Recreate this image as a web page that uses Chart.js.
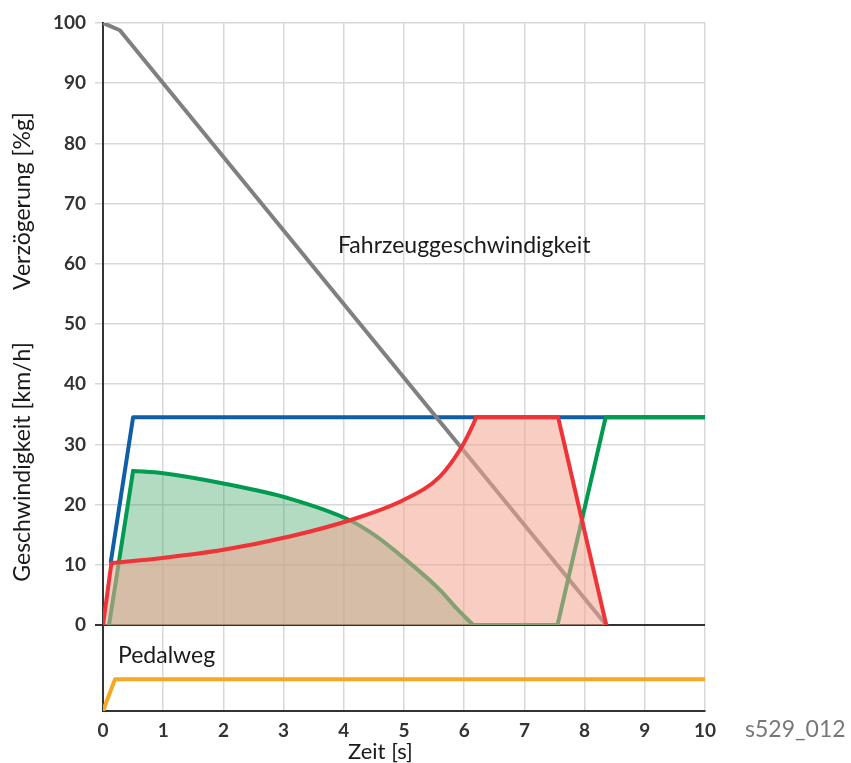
<!DOCTYPE html>
<html>
<head>
<meta charset="utf-8">
<script src="https://cdn.jsdelivr.net/npm/chart.js@4.4.1/dist/chart.umd.min.js"></script>
<style>
  html, body { margin: 0; padding: 0; background: #fff; }
  #wrap { width: 851px; height: 763px; }
</style>
</head>
<body>
<div id="wrap"><canvas id="grafica" width="851" height="763"></canvas></div>
<script>
// Zeitachse [s] und Werte je Kurve
const zeitTicks = [0, 1, 2, 3, 4, 5, 6, 7, 8, 9, 10]
const yTicks = [0, 10, 20, 30, 40, 50, 60, 70, 80, 90, 100]

const grauZeit = [0, 0.28, 8.36]
const grauWerte = [100, 98.8, 0]

const blauZeit = [0.13, 0.5, 10]
const blauWerte = [10.5, 34.5, 34.5]

const gruenZeit = [0.1, 0.5, 1.0, 2.0, 3.1, 4.1, 4.5, 5.0, 5.6, 5.87, 6.15, 7.55, 8.35, 10]
const gruenWerte = [0, 25.6, 25.2, 23.5, 21.0, 17.4, 15.0, 11.1, 5.8, 2.8, 0, 0, 34.5, 34.5]

const rotZeit = [0, 0.14, 0.95, 2.0, 3.1, 4.1, 5.0, 5.6, 5.96, 6.12, 6.2, 7.56, 8.36]
const rotWerte = [0, 10.3, 11.1, 12.5, 14.7, 17.4, 20.8, 24.7, 29.6, 32.7, 34.5, 34.5, 0]

const pedalZeit = [0, 0.2, 10]
const pedalWerte = [0, 40, 40]

// Punkte von Index a bis b (inklusive)
function punkte(xs, ys, a = 0, b = xs.length - 1) {
    const res = []
    for (let i = a; i <= b; i++) res.push({ x: xs[i], y: ys[i] })
    return res
}

function linie(label, data, farbe, glatt) {
    return {
        label: label,
        data: data,
        borderColor: farbe,
        borderWidth: 4,
        fill: false,
        cubicInterpolationMode: glatt ? "monotone" : "default",
        yAxisID: "y"
    }
}

function flaeche(label, data, farbe) {
    return {
        label: label,
        data: data,
        borderWidth: 0,
        borderColor: "rgba(0,0,0,0)",
        backgroundColor: farbe,
        fill: "origin",
        yAxisID: "y"
    }
}

const schrift = "Lato, 'Noto Sans', sans-serif"

const texte = {
    id: "texte",
    afterDraw(chart) {
        const ctx = chart.ctx
        ctx.save()
        ctx.fillStyle = "#1a1a1a"
        ctx.font = "23px " + schrift
        ctx.textAlign = "center"
        ctx.textBaseline = "alphabetic"

        ctx.save()
        ctx.translate(30, 201)
        ctx.rotate(-Math.PI / 2)
        ctx.fillText("Verzögerung [%g]", 0, 0)
        ctx.restore()

        ctx.save()
        ctx.translate(30, 462)
        ctx.rotate(-Math.PI / 2)
        ctx.fillText("Geschwindigkeit [km/h]", 0, 0)
        ctx.restore()

        ctx.textAlign = "left"
        ctx.fillText("Fahrzeuggeschwindigkeit", 338, 253)
        ctx.fillText("Pedalweg", 118, 663)
        ctx.font = "22px " + schrift
        ctx.fillText("Zeit [s]", 348, 759)
        ctx.font = "23px " + schrift
        ctx.fillStyle = "#777"
        ctx.fillText("s529_012", 745, 737)
        ctx.restore()
    }
}

const rot = "#ee3438"
const gruen = "#009a50"
const n = rotZeit.length - 1
const m = gruenZeit.length - 1

const ctx = document.getElementById("grafica").getContext("2d")
new Chart(ctx, {
    type: "line",
    data: {
        datasets: [
            linie("Rot Anstieg", punkte(rotZeit, rotWerte, 0, 1), rot, false),
            linie("Rot Kurve", punkte(rotZeit, rotWerte, 1, 10), rot, true),
            linie("Rot Abfall", punkte(rotZeit, rotWerte, 10, n), rot, false),
            flaeche("Rot Fläche", punkte(rotZeit, rotWerte), "rgba(242,165,145,0.55)"),
            linie("Grün Anstieg", punkte(gruenZeit, gruenWerte, 0, 1), gruen, false),
            linie("Grün Kurve", punkte(gruenZeit, gruenWerte, 1, 10), gruen, true),
            linie("Grün Rest", punkte(gruenZeit, gruenWerte, 10, m), gruen, false),
            flaeche("Grün Fläche", punkte(gruenZeit, gruenWerte, 0, 10), "rgba(65,165,102,0.4)"),
            linie("Fahrzeuggeschwindigkeit", punkte(grauZeit, grauWerte), "#808080", false),
            linie("Blau", punkte(blauZeit, blauWerte), "#0f5ea8", false),
            {
                label: "Pedalweg",
                data: punkte(pedalZeit, pedalWerte),
                borderColor: "#f7a823",
                borderWidth: 4,
                fill: false,
                yAxisID: "y2"
            }
        ]
    },
    options: {
        responsive: false,
        animation: false,
        layout: { padding: { left: 0, right: 146, top: 23, bottom: 0 } },
        elements: { point: { radius: 0 }, line: { tension: 0, borderJoinStyle: "round", borderCapStyle: "round" } },
        plugins: { legend: { display: false }, tooltip: { enabled: false } },
        scales: {
            x: {
                type: "linear",
                min: 0,
                max: 10,
                afterBuildTicks: (scale) => { scale.ticks = zeitTicks.map(v => ({ value: v })) },
                ticks: { font: { family: schrift, size: 19, weight: "bold" }, color: "#333", padding: 8, maxRotation: 0 },
                grid: { color: "#d8d8d8", lineWidth: 1.5, drawTicks: false },
                border: { color: "#333", width: 2 },
                afterFit: (scale) => { scale.height = 52 }
            },
            y2: {
                type: "linear",
                stack: "links",
                stackWeight: 1,
                min: 0,
                max: 108,
                ticks: { display: false },
                grid: { display: false },
                border: { color: "#333", width: 2 },
                afterFit: (scale) => { scale.width = 103 }
            },
            y: {
                type: "linear",
                stack: "links",
                stackWeight: 7,
                min: 0,
                max: 100,
                afterBuildTicks: (scale) => { scale.ticks = yTicks.map(v => ({ value: v })) },
                ticks: { font: { family: schrift, size: 19, weight: "bold" }, color: "#333", padding: 9 },
                grid: {
                    color: (c) => c.tick && c.tick.value === 0 ? "#333" : "#d8d8d8",
                    lineWidth: (c) => c.tick && c.tick.value === 0 ? 2 : 1.5,
                    tickLength: 8
                },
                border: { color: "#333", width: 2 },
                afterFit: (scale) => { scale.width = 103 }
            }
        }
    },
    plugins: [texte]
});
</script>
</body>
</html>
